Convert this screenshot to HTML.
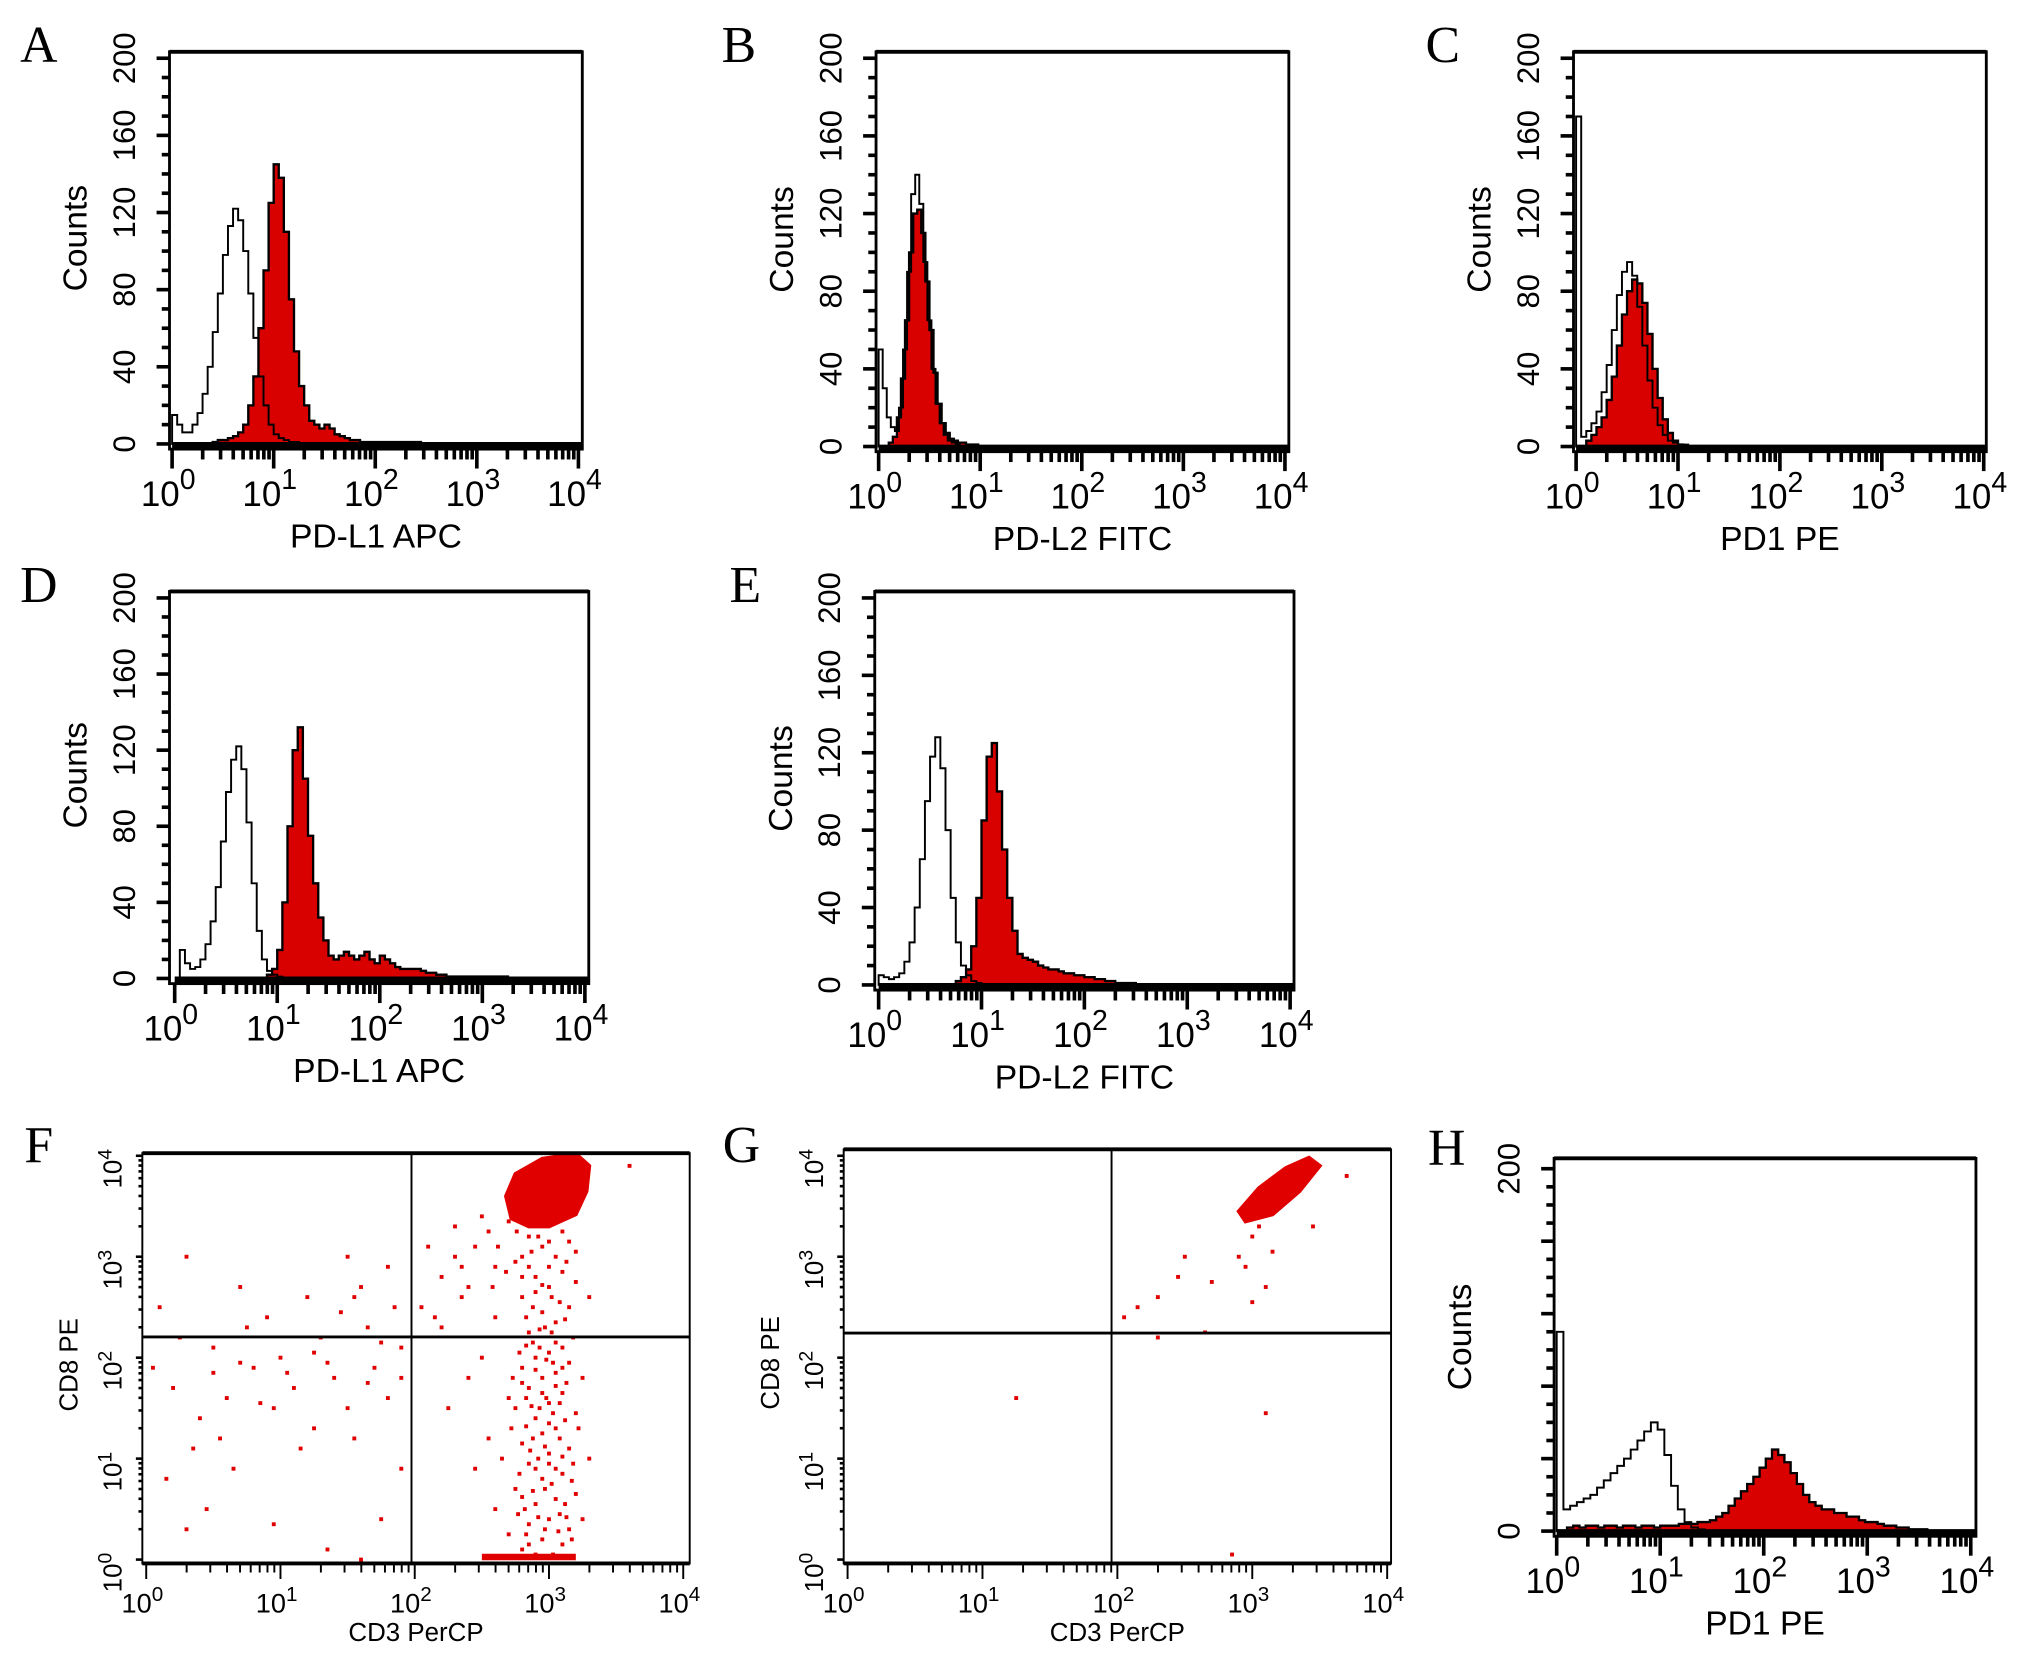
<!DOCTYPE html>
<html><head><meta charset="utf-8"><style>
html,body{margin:0;padding:0;background:#fff;}
svg{display:block;}
text{font-family:"Liberation Sans",sans-serif;fill:#000;}
.lt{font-family:"Liberation Serif",serif;font-size:40px;}
</style></head><body>
<svg id="fig" width="2029" height="1667" viewBox="0 0 1568 1288" preserveAspectRatio="none" xmlns="http://www.w3.org/2000/svg"></svg>
<script>
// ===== DATA =====
const histA_open_start = 0.0,  histA_open_step = 0.05;
const histA_open = [15,10,6,6,10,16,26,40,58,78,98,113,122,116,100,78,55,35,20,10,5,3,2,1,1,0];
const histA_fill_start = 0.4,  histA_fill_step = 0.05;
const histA_fill = [1,2,2,3,4,6,10,20,35,60,90,125,145,138,110,75,48,30,20,12,10,8,10,8,5,4,3,2,2,1,1,1,1,1,1,1,1,1,1,1,1,0];
const histB_open_start = 0.0,  histB_open_step = 0.04;
const histB_open = [50,30,15,10,8,20,50,90,130,140,125,95,65,40,22,12,6,3,2,1,0];
const histB_fill_start = 0.1,  histB_fill_step = 0.04;
const histB_fill = [2,5,15,35,65,100,120,122,110,85,60,38,22,12,7,4,3,2,2,1,1,1,0];
const histC_open_start = 0.0,  histC_open_step = 0.05;
const histC_open = [170,5,8,12,18,28,42,60,78,90,95,88,72,52,34,20,11,6,3,2,1,1,0];
const histC_fill_start = 0.05, histC_fill_step = 0.05;
const histC_fill = [0,3,6,10,15,24,36,52,68,80,86,84,74,58,40,25,14,7,3,1,0];
const histD_open_start = 0.05, histD_open_step = 0.05;
const histD_open = [15,8,5,6,10,18,30,48,72,98,115,122,110,82,50,25,10,4,2,1,0];
const histD_fill_start = 0.9,  histD_fill_step = 0.05;
const histD_fill = [2,5,15,40,80,120,132,105,75,50,32,20,12,10,12,14,12,10,12,14,10,8,12,10,8,6,5,5,5,5,4,3,3,2,2,1,1,1,1,1,1,1,1,1,1,1,1,0];
const histE_open_start = 0.0,  histE_open_step = 0.05;
const histE_open = [5,4,3,4,6,12,22,40,65,95,118,128,112,80,45,22,10,5,2,1,0];
const histE_fill_start = 0.75, histE_fill_step = 0.05;
const histE_fill = [2,4,8,20,45,85,118,125,100,70,45,28,16,14,13,12,10,9,8,8,7,6,6,5,5,4,4,3,3,2,2,1,1,1,1,0];
const histH_open_start = 0.0,  histH_open_step = 0.065;
const histH_open = [110,12,14,16,18,20,24,28,32,36,40,45,50,55,60,56,42,25,12,5,2,1,0];
const histH_fill_start = 0.1,  histH_fill_step = 0.06;
const histH_fill = [2,3,2,3,3,2,3,3,2,3,3,2,3,3,2,3,3,3,4,4,4,5,5,6,8,10,14,18,22,26,30,35,40,45,42,38,32,26,20,16,14,12,12,10,10,8,8,6,5,5,4,3,3,2,2,1,1,1,0];

const yTicksMajor = [0,40,80,120,160,200];
const yTicksH = [0,200];
const xDecades = [0,1,2,3,4];

const scatterF = [[2.8,0.1],[2.95,0.2],[3.1,0.15],[2.85,0.35],[3.0,0.4],[3.15,0.3],[2.9,0.55],[3.05,0.6],[2.75,0.7],[3.2,0.65],[2.95,0.8],[3.1,0.85],[2.85,0.95],[3.0,1.05],[2.8,1.15],[3.15,1.1],[2.95,1.25],[3.05,1.3],[2.9,1.4],[3.2,1.45],[2.75,1.5],[3.0,1.55],[3.1,1.65],[2.85,1.7],[2.95,1.8],[3.05,1.85],[2.8,1.9],[3.15,1.95],[2.9,2.0],[3.0,2.05],[2.7,1.6],[3.1,2.1],[2.85,2.25],[3.05,2.35],[2.95,2.45],[3.15,2.5],[2.8,2.6],[3.0,2.7],[2.9,2.8],[3.1,2.85],[2.75,2.95],[3.05,3.0],[2.95,3.1],[3.15,3.15],[2.85,3.2],[2.6,2.4],[2.5,2.0],[2.4,1.8],[2.55,1.2],[2.6,0.5],[2.45,0.9],[2.35,2.6],[2.3,3.0],[2.45,3.1],[2.2,2.8],[2.15,2.4],[2.25,1.5],[3.3,2.6],[3.25,1.8],[3.3,1.0],[3.25,0.4],[2.7,0.25],[2.65,1.0],[2.9,0.05],[3.05,0.9],[2.98,1.6],[3.02,2.25],[2.88,2.15],[2.92,1.0],[3.08,0.45],
[2.82,0.5],[3.12,0.55],[2.97,0.7],[2.78,0.85],[3.18,0.95],[2.88,1.2],[3.08,1.2],[2.72,1.3],[3.22,1.3],[2.93,1.5],[3.03,1.45],[2.83,1.6],[3.13,1.75],[2.73,1.8],[3.03,1.95],[2.93,2.1],[2.78,2.05],[3.18,2.2],[2.97,2.3],[2.83,2.4],[3.08,2.55],[2.9,2.65],[3.2,2.75],[2.8,2.8],[3.0,2.9],[2.87,3.05],[3.1,3.25],[2.97,0.3],[2.85,0.15],[3.03,0.05],[3.17,0.2],[2.77,0.45],
[2.83,0.25],[3.07,0.28],[2.92,0.42],[3.13,0.42],[2.88,0.68],[3.02,0.75],[2.8,0.62],[3.17,0.78],[2.9,0.9],[3.0,0.95],[2.86,1.08],[3.1,1.02],[2.97,1.12],[2.83,1.32],[3.0,1.35],[3.12,1.38],[2.87,1.52],[3.08,1.55],[2.95,1.65],[2.8,1.75],[3.05,1.72],[2.9,1.88],[3.1,1.9],[2.98,1.98],[2.83,2.12],[3.05,2.15],[2.93,2.28],[3.12,2.38],[2.88,2.5],[3.02,2.6],[2.95,2.72],[3.13,2.95],[2.85,2.9],[2.92,3.2],[3.0,3.15],[2.8,3.0],[2.76,3.25],[3.2,3.05],[2.68,2.85],[2.62,3.1],[2.58,2.7],
[0.2,1.7],[0.3,3.0],[0.1,2.5],[0.5,2.1],[0.7,2.7],[0.9,2.4],[1.2,2.6],[1.5,3.0],[1.8,2.9],[1.6,2.7],[1.3,2.2],[1.0,2.0],[0.8,1.9],[0.6,1.6],[0.4,1.4],[1.1,1.7],[1.4,1.8],[1.7,1.9],[1.9,2.1],[0.95,1.5],[1.25,1.3],[0.35,1.1],[0.55,1.2],[1.5,1.5],[1.8,1.6],[0.15,0.8],[0.45,0.5],[0.95,0.35],[1.35,0.1],[1.75,0.4],[1.9,0.9],[0.05,1.9],[0.25,2.2],[0.75,2.3],[1.45,2.45],[1.65,2.3],[1.85,2.5],[1.15,1.1],[0.65,0.9],[0.3,0.3],[1.6,0.0],[1.55,1.2],
[1.05,1.85],[1.35,1.95],[0.85,1.55],[1.65,1.75],[1.25,2.05],[0.7,1.95],[1.9,1.8],[1.75,2.15],[0.5,1.85],[1.55,2.6],
[2.05,2.5],[2.1,3.1],[2.3,3.3],[2.5,3.4],[2.6,2.9],[2.2,2.3],[2.4,2.7],[2.7,3.35],[3.6,3.9],[2.55,3.25],[2.35,2.9]];
const blobF = [[2.72,3.38],[2.68,3.6],[2.75,3.82],[2.95,3.97],[3.2,4.02],[3.3,3.9],[3.28,3.65],[3.2,3.42],[3.0,3.3],[2.85,3.3]];
const baseRowF = [2.5,3.2];
const scatterG = [[3.7,3.8],[3.45,3.3],[3.0,3.2],[2.9,3.0],[2.95,2.9],[3.1,2.7],[3.15,3.05],[3.05,3.3],[2.5,3.0],[2.45,2.8],[2.3,2.6],[2.15,2.5],[2.05,2.4],[2.65,2.25],[2.3,2.2],[1.25,1.6],[3.1,1.45],[2.85,0.05],[2.7,2.75],[3.0,2.55]];
const blobG = [[2.95,3.35],[2.9,3.45],[3.05,3.68],[3.25,3.88],[3.42,3.98],[3.5,3.9],[3.35,3.65],[3.15,3.42]];

// ===== RENDER =====
const NS='http://www.w3.org/2000/svg';
const svg=document.getElementById('fig');
function el(tag,attrs,parent){const e=document.createElementNS(NS,tag);for(const k in attrs)e.setAttribute(k,attrs[k]);(parent||svg).appendChild(e);return e;}
function txt(s,x,y,size,parent,anchor,rot){const t=el('text',{x:x,y:y,'font-size':size,'text-anchor':anchor||'middle'},parent);if(rot)t.setAttribute('transform','rotate(-90 '+x+' '+y+')');t.textContent=s;return t;}

function histPanel(name,letter,lx,ly,P,openS,openSt,openD,fillS,fillSt,fillD,yt,xlabel){
  const g=el('g',{});
  
  
  const X=v=>P.ax0+(P.ax1-P.ax0)*v/4;
  const Y=c=>P.yb-(P.yb-P.y200)*c/200;
  const L=txt(letter,lx,ly,40,g,'middle');L.setAttribute('class','lt');
  
  
  function path(s,st,d){let p='M'+X(s)+','+Y(0);d.forEach((c,i)=>{p+=' L'+X(s+i*st)+','+Y(c)+' L'+X(s+(i+1)*st)+','+Y(c);});p+=' L'+X(s+d.length*st)+','+Y(0)+'Z';return p;}
  const f=el('path',{d:path(fillS,fillSt,fillD),fill:'#d90000',stroke:'#000','stroke-width':1.8},g);
  
  
  const o=el('path',{d:path(openS,openSt,openD),fill:'none',stroke:'#000','stroke-width':1.5},g);
  
  
  el('line',{x1:P.ax0,x2:P.x1,y1:Y(0)+1,y2:Y(0)+1,stroke:'#000','stroke-width':5},g);
  el('rect',{x:P.x0,y:P.top,width:P.x1-P.x0,height:P.yb+4-P.top,fill:'none',stroke:'#000','stroke-width':2.2},g);
  el('line',{x1:P.x0,x2:P.x1,y1:P.top,y2:P.top,stroke:'#000','stroke-width':3},g);
  const ya=el('g',{},g);
  for(let c=0;c<=200;c+=10){const maj=c%40===0;el('line',{x1:P.x0-(maj?10:6),x2:P.x0,y1:Y(c),y2:Y(c),stroke:'#000','stroke-width':2.8},ya);}
  yt.forEach(c=>{txt(String(c),P.x0-33,Y(c),24,ya,'middle',true).setAttribute('dominant-baseline','middle');});
  const ct=txt('Counts',P.x0-71,(P.y200+P.yb)/2-10,26,ya,'middle',true);
  ct.setAttribute('dominant-baseline','middle');
  
  
  const xa=el('g',{},g);
  const by=P.yb+4;
  xDecades.forEach(d=>{
    el('line',{x1:X(d),x2:X(d),y1:by,y2:by+15,stroke:'#000','stroke-width':2.8},xa);
    if(d<4)for(let m=2;m<=9;m++){const xx=X(d+Math.log10(m));el('line',{x1:xx,x2:xx,y1:by,y2:by+8,stroke:'#000','stroke-width':2.8},xa);}
    const t=el('text',{x:X(d)-3,y:by+44,'font-size':27,'text-anchor':'middle'},xa);
    t.textContent='10';
    const s=el('tspan',{dy:-13,'font-size':22},t);s.textContent=String(d);
  });
  const xt=txt(xlabel,(P.x0+P.x1)/2,by+76,26,xa,'middle');
  
  
}

histPanel('a','A',30,48,{x0:131,x1:450,top:40,y200:45,yb:343,ax0:133,ax1:447},histA_open_start,histA_open_step,histA_open,histA_fill_start,histA_fill_step,histA_fill,yTicksMajor,'PD-L1 APC');
histPanel('b','B',571,48,{x0:677,x1:996,top:40,y200:45,yb:345,ax0:679,ax1:993},histB_open_start,histB_open_step,histB_open,histB_fill_start,histB_fill_step,histB_fill,yTicksMajor,'PD-L2 FITC');
histPanel('c','C',1115,48,{x0:1216,x1:1535,top:40,y200:45,yb:345,ax0:1218,ax1:1533},histC_open_start,histC_open_step,histC_open,histC_fill_start,histC_fill_step,histC_fill,yTicksMajor,'PD1 PE');
histPanel('d','D',30,465,{x0:131,x1:455,top:457,y200:462,yb:756,ax0:135,ax1:452},histD_open_start,histD_open_step,histD_open,histD_fill_start,histD_fill_step,histD_fill,yTicksMajor,'PD-L1 APC');
histPanel('e','E',576,465,{x0:676,x1:1000,top:457,y200:462,yb:761,ax0:679,ax1:997},histE_open_start,histE_open_step,histE_open,histE_fill_start,histE_fill_step,histE_fill,yTicksMajor,'PD-L2 FITC');
histPanel('h','H',1118,900,{x0:1201,x1:1527,top:895,y200:903,yb:1183,ax0:1203,ax1:1523},histH_open_start,histH_open_step,histH_open,histH_fill_start,histH_fill_step,histH_fill,yTicksH,'PD1 PE');

function scatterPanel(name,letter,lx,ly,P,pts,blob,row){
  const g=el('g',{});
  
  
  const X=v=>P.ax0+(P.ax1-P.ax0)*v/4;
  const Y=v=>P.ay0-(P.ay0-P.ay4)*v/4;
  const L=txt(letter,lx,ly,40,g,'middle');L.setAttribute('class','lt');
  
  
  const b=el('polygon',{points:blob.map(p=>X(p[0])+','+Y(p[1])).join(' '),fill:'#e00000',stroke:'#e00000','stroke-width':3},g);
  
  
  if(row){const r=el('line',{x1:X(row[0]),x2:X(row[1]),y1:Y(0)-2,y2:Y(0)-2,stroke:'#e00000','stroke-width':5},g);
    
    }
  pts.forEach(p=>{
    const d=el('rect',{x:X(p[0])-1.5,y:Y(p[1])-1.5,width:3,height:3,fill:'#e00000'},g);
    
    
  });
  el('rect',{x:P.x0,y:P.top,width:P.x1-P.x0,height:P.bot-P.top,fill:'none',stroke:'#000','stroke-width':1.5},g);
  el('line',{x1:P.x0,x2:P.x1,y1:P.top,y2:P.top,stroke:'#000','stroke-width':3},g);
  el('line',{x1:P.x0,x2:P.x1,y1:P.bot,y2:P.bot,stroke:'#000','stroke-width':3},g);
  const q1=el('line',{x1:P.qx,x2:P.qx,y1:P.top,y2:P.bot,stroke:'#000','stroke-width':1.5},g);
  
  const q2=el('line',{x1:P.x0,x2:P.x1,y1:P.qy,y2:P.qy,stroke:'#000','stroke-width':2.2},g);
  
  const xa=el('g',{},g);
  const ya=el('g',{},g);
  xDecades.forEach(d=>{
    el('line',{x1:X(d),x2:X(d),y1:P.bot,y2:P.bot+12,stroke:'#000','stroke-width':1.5},xa);
    el('line',{x1:P.x0-5,x2:P.x0,y1:Y(d),y2:Y(d),stroke:'#000','stroke-width':2},ya);
    if(d<4)for(let m=2;m<=9;m++){const xx=X(d+Math.log10(m));el('line',{x1:xx,x2:xx,y1:P.bot,y2:P.bot+7,stroke:'#000','stroke-width':1.5},xa);
      const yy=Y(d+Math.log10(m));el('line',{x1:P.x0-3,x2:P.x0,y1:yy,y2:yy,stroke:'#000','stroke-width':2},ya);}
    const t=el('text',{x:X(d)-3,y:P.bot+38,'font-size':21,'text-anchor':'middle'},xa);
    t.textContent='10';
    const s=el('tspan',{dy:-9,'font-size':16},t);s.textContent=String(d);
    const tx=P.x0-16, tyy=Y(d)+10;
    const ty=el('text',{x:tx,y:tyy,'font-size':20,'text-anchor':'middle',transform:'rotate(-90 '+tx+' '+tyy+')'},ya);
    ty.textContent='10';
    const sy=el('tspan',{dy:-8,'font-size':15},ty);sy.textContent=String(d);
  });
  const xt=txt('CD3 PerCP',(P.x0+P.x1)/2,P.bot+60,20,xa,'middle');
  
  const yt=txt('CD8 PE',P.x0-50,(P.top+P.bot)/2+5,20,ya,'middle',true);
  
}
scatterPanel('f','F',30,898,{x0:110,x1:533,top:891,bot:1208,qx:318,qy:1033,ax0:113,ax1:528,ay0:1205,ay4:893},scatterF,blobF,baseRowF);
scatterPanel('g','G',573,898,{x0:652,x1:1075,top:888,bot:1208,qx:859,qy:1030,ax0:655,ax1:1072,ay0:1205,ay4:893},scatterG,blobG,null);
</script>
</body></html>
